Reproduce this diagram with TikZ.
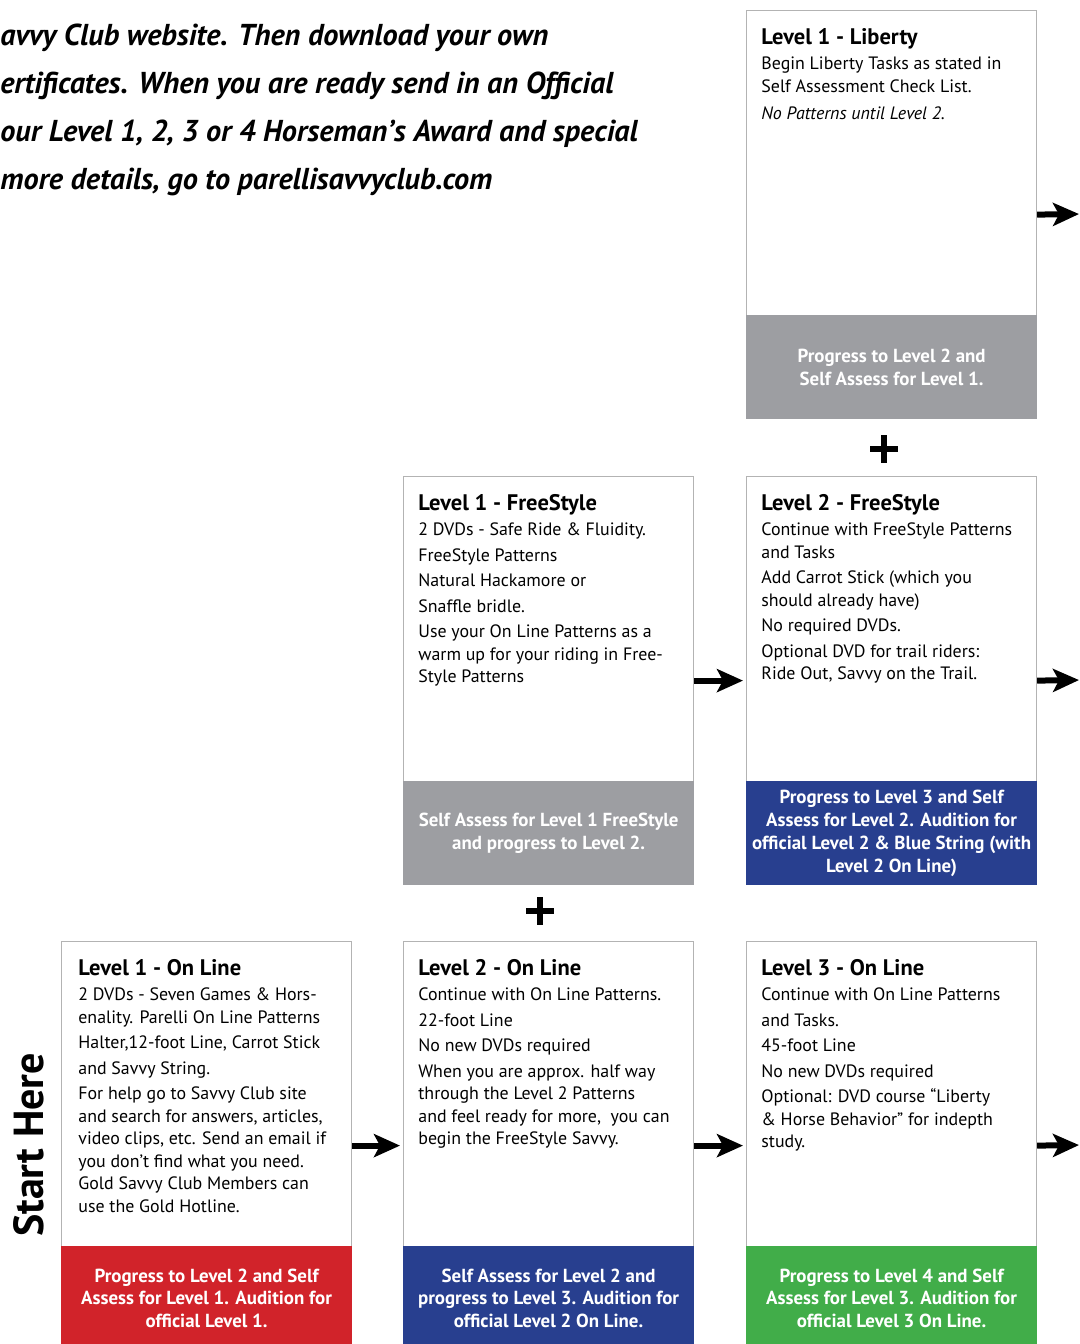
\documentclass[tikz,border=0pt]{standalone}
\usepackage{fontspec}
\setmainfont{PT Sans}
\usetikzlibrary{calc,arrows.meta}
\definecolor{fgray}{HTML}{9D9EA2}
\definecolor{fblue}{HTML}{283F8F}
\definecolor{fred}{HTML}{D1232A}
\definecolor{fgreen}{HTML}{41AD49}
\definecolor{edgegray}{HTML}{B3B3B3}
\tikzset{
  card/.style={draw=edgegray, line width=0.6pt, fill=white, minimum width=145pt, minimum height=204pt, inner sep=0pt, anchor=north west},
  bodytext/.style={anchor=north west, align=left, inner sep=0pt, font=\fontsize{8.95}{11.25}\selectfont},
  foottext/.style={align=center, text=white, inner sep=0pt, font=\bfseries\fontsize{9.45}{11.4}\selectfont},
  flow/.style={line width=3pt, -{Stealth[length=13pt,width=11.5pt,inset=3pt]}, shorten >=1.5pt},
  plusmark/.style={line width=2.6pt},
  toptext/.style={anchor=base west, inner sep=0pt, font=\bfseries\itshape\fontsize{15.1}{15}\selectfont},
}
\newcommand{\cardtitle}[1]{{\bfseries\fontsize{11.25}{13}\selectfont #1}\\[1.3pt]}
\begin{document}
\begin{tikzpicture}[x=0.5pt,y=-0.5pt]
\useasboundingbox (0,0) rectangle (1080,1344);
\clip (0,0) rectangle (1080,1344);

% top text (cut off at the left)
\node[toptext] (t1) at (0,45) {avvy Club website. Then download your own};
\node[toptext] (t2) at (0,93) {ertificates. When you are ready send in an Official};
\node[toptext] (t3) at (0,141) {our Level 1, 2, 3 or 4 Horseman’s Award and special};
\node[toptext] (t4) at (0,189) {more details, go to parellisavvyclub.com};

% cards
\node[card] (lib) at (746,10) {};
\node[card] (fs1) at (403,476) {};
\node[card] (fs2) at (746,476) {};
\node[card] (ol1) at (61,941) {};
\node[card] (ol2) at (403,941) {};
\node[card] (ol3) at (746,941) {};

% footers
\fill[fgray]  (lib.south west) rectangle ($(lib.south east)+(0,-104)$);
\fill[fgray]  (fs1.south west) rectangle ($(fs1.south east)+(0,-104)$);
\fill[fblue]  (fs2.south west) rectangle ($(fs2.south east)+(0,-104)$);
\fill[fred]   (ol1.south west) rectangle ($(ol1.south east)+(0,-104)$);
\fill[fblue]  (ol2.south west) rectangle ($(ol2.south east)+(0,-104)$);
\fill[fgreen] (ol3.south west) rectangle ($(ol3.south east)+(0,-104)$);

% body texts
\node[bodytext] (libtx) at ($(lib.north west)+(15,18)$) {\cardtitle{Level 1 - Liberty}
Begin Liberty Tasks as stated in\\
Self Assessment Check List.\\[2.5pt]
\textit{No Patterns until Level 2.}};

\node[bodytext] (fs1tx) at ($(fs1.north west)+(15,18)$) {\cardtitle{Level 1 - FreeStyle}
2 DVDs - Safe Ride \& Fluidity.\\[1.5pt]
FreeStyle Patterns\\[1.5pt]
Natural Hackamore or\\[1.5pt]
Snaffle bridle.\\[1.5pt]
Use your On Line Patterns as a\\
warm up for your riding in Free-\\
Style Patterns};

\node[bodytext] (fs2tx) at ($(fs2.north west)+(15,18)$) {\cardtitle{Level 2 - FreeStyle}
Continue with FreeStyle Patterns\\
and Tasks\\[1.5pt]
Add Carrot Stick (which you\\
should already have)\\[1.5pt]
No required DVDs.\\[1.5pt]
Optional DVD for trail riders:\\
Ride Out, Savvy on the Trail.};

\node[bodytext] (ol1tx) at ($(ol1.north west)+(17,18)$) {\cardtitle{Level 1 - On Line}
2 DVDs - Seven Games \& Hors-\\
enality. Parelli On Line Patterns\\[1.5pt]
Halter,12-foot Line, Carrot Stick\\[1.5pt]
and Savvy String.\\[1.5pt]
For help go to Savvy Club site\\
and search for answers, articles,\\
video clips, etc. Send an email if\\
you don’t find what you need.\\
Gold Savvy Club Members can\\
use the Gold Hotline.};

\node[bodytext] (ol2tx) at ($(ol2.north west)+(15,18)$) {\cardtitle{Level 2 - On Line}
Continue with On Line Patterns.\\[1.5pt]
22-foot Line\\[1.5pt]
No new DVDs required\\[1.5pt]
When you are approx. half way\\
through the Level 2 Patterns\\
and feel ready for more,\ \ you can\\
begin the FreeStyle Savvy.};

\node[bodytext] (ol3tx) at ($(ol3.north west)+(15,18)$) {\cardtitle{Level 3 - On Line}
Continue with On Line Patterns\\[1.5pt]
and Tasks.\\[1.5pt]
45-foot Line\\[1.5pt]
No new DVDs required\\[1.5pt]
Optional: DVD course “Liberty\\
\& Horse Behavior” for indepth\\
study.};

% footer texts
\node[foottext] (libft) at ($(lib.south)+(0,-52)$) {Progress to Level 2 and\\Self Assess for Level 1.};
\node[foottext] (fs1ft) at ($(fs1.south)+(0,-52)$) {Self Assess for Level 1 FreeStyle\\and progress to Level 2.};
\node[foottext] (fs2ft) at ($(fs2.south)+(0,-52)$) {Progress to Level 3 and Self\\Assess for Level 2. Audition for\\official Level 2 \& Blue String (with\\Level 2 On Line)};
\node[foottext] (ol1ft) at ($(ol1.south)+(0,-52)$) {Progress to Level 2 and Self\\Assess for Level 1. Audition for\\official Level 1.};
\node[foottext] (ol2ft) at ($(ol2.south)+(0,-52)$) {Self Assess for Level 2 and\\progress to Level 3. Audition for\\official Level 2 On Line.};
\node[foottext] (ol3ft) at ($(ol3.south)+(0,-52)$) {Progress to Level 4 and Self\\Assess for Level 3. Audition for\\official Level 3 On Line.};

% start here
\node[rotate=90, anchor=base, inner sep=0pt, font=\bfseries\fontsize{21}{21}\selectfont] (start) at (43,1145) {Start Here};

% arrows
\coordinate (out1) at (1082,214);
\coordinate (out2) at (1082,680);
\coordinate (out3) at (1082,1145);
\draw[flow] (lib.east) -- (out1);
\draw[flow] (fs1.east) -- (fs2.west);
\draw[flow] (fs2.east) -- (out2);
\draw[flow] (ol1.east) -- (ol2.west);
\draw[flow] (ol2.east) -- (ol3.west);
\draw[flow] (ol3.east) -- (out3);

% plus signs
\draw[plusmark] (884,435) -- (884,463) (870,449) -- (898,449);
\draw[plusmark] (540,897) -- (540,925) (526,911) -- (554,911);
\end{tikzpicture}
\end{document}
